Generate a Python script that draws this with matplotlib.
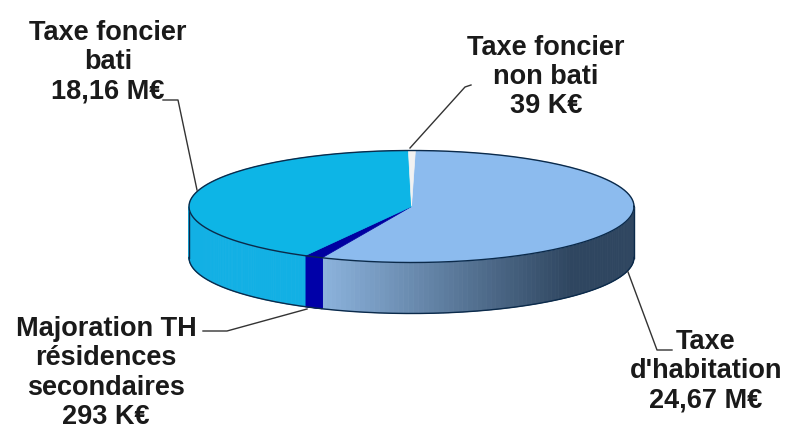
import numpy as np
import matplotlib
matplotlib.use('Agg')
import matplotlib.pyplot as plt
from matplotlib.patches import Polygon

plt.rcParams['font.family'] = ['Liberation Sans', 'DejaVu Sans']

labels = ["Taxe\nd'habitation\n24,67 M€", "Majoration TH\nrésidences\nsecondaires\n293 K€", "Taxe foncier\nbati\n18,16 M€", "Taxe foncier\nnon bati\n39 K€"]
# share of the pie as drawn in the picture (small slices are enlarged there)
shares = [56.3, 1.36, 41.84, 0.5]
top_colors = ['#8CBBEE', '#0000A0', '#0DB5E6', '#F2F2F2']
wall_left = ['#8DB4DE', '#0000A8', '#12B0E4', '#DDDDDD']
wall_right = ['#2F4660', '#0000A8', '#12B0E4', '#DDDDDD']
outline = '#0B2A4A'

fig = plt.figure(figsize=(7.87, 4.33), dpi=100)
ax = fig.add_axes([0, 0, 1, 1])
ax.set_xlim(0, 787)
ax.set_ylim(433, 0)
ax.set_axis_off()

cx, cy, rx, ry, depth = 411.5, 206.5, 222.5, 56, 51
start = 89

def point(a):
    return cx + rx * np.cos(np.radians(a)), cy - ry * np.sin(np.radians(a))

# angles run clockwise from the start angle
fractions = np.array(shares) / sum(shares)
edges = start - 360 * np.concatenate([[0], np.cumsum(fractions)])

# outer wall, only the front half shows
for i in range(len(shares)):
    lo, hi = max(edges[i + 1], -180), min(edges[i], 0)
    if hi <= lo:
        continue
    c0 = np.array(matplotlib.colors.to_rgb(wall_left[i]))
    c1 = np.array(matplotlib.colors.to_rgb(wall_right[i]))
    steps = np.linspace(hi, lo, 90)
    for s0, s1 in zip(steps[:-1], steps[1:]):
        x0, y0 = point(s0)
        x1, y1 = point(s1)
        t = np.clip((x0 - 322) / 250, 0, 1)
        col = c0 + (c1 - c0) * t
        ax.add_patch(Polygon([(x0, y0), (x1, y1), (x1, y1 + depth), (x0, y0 + depth)], fc=col, ec=col, lw=0.6))

# wall outline
arc = np.linspace(0, -180, 200)
xs, ys = point(arc)
ax.plot(xs, ys + depth, color=outline, lw=1, zorder=2)
ax.plot([xs[0], xs[0]], [ys[0], ys[0] + depth], color=outline, lw=1, zorder=2)
ax.plot([xs[-1], xs[-1]], [ys[-1], ys[-1] + depth], color=outline, lw=1, zorder=2)

# top faces
for i in range(len(shares)):
    arc = np.linspace(edges[i], edges[i + 1], 120)
    xs, ys = point(arc)
    pts = np.column_stack([np.r_[cx, xs], np.r_[cy, ys]])
    ax.add_patch(Polygon(pts, fc=top_colors[i], ec=top_colors[i], lw=0.5, zorder=3))

# top outline
arc = np.linspace(0, 360, 300)
xs, ys = point(arc)
ax.plot(xs, ys, color=outline, lw=1, zorder=4)

# leader lines
lines = [([628, 657, 672], [272, 350, 350]), ([197, 178, 163], [190, 100, 100]), ([307, 227, 203], [309, 331, 331]), ([410, 465, 471], [148, 87, 85])]
for lx, ly in lines:
    ax.plot(lx, ly, color='#333333', lw=1, zorder=5)

text_pos = [(706, 371), (106, 373), (108, 62), (546, 77)]
for lab, (x, y) in zip(labels, text_pos):
    ax.text(x, y, lab, ha='center', va='center', fontsize=19.5, fontweight='bold', color='#1a1a1a', linespacing=1.17, zorder=6)

fig.savefig('out.png', dpi=100)
